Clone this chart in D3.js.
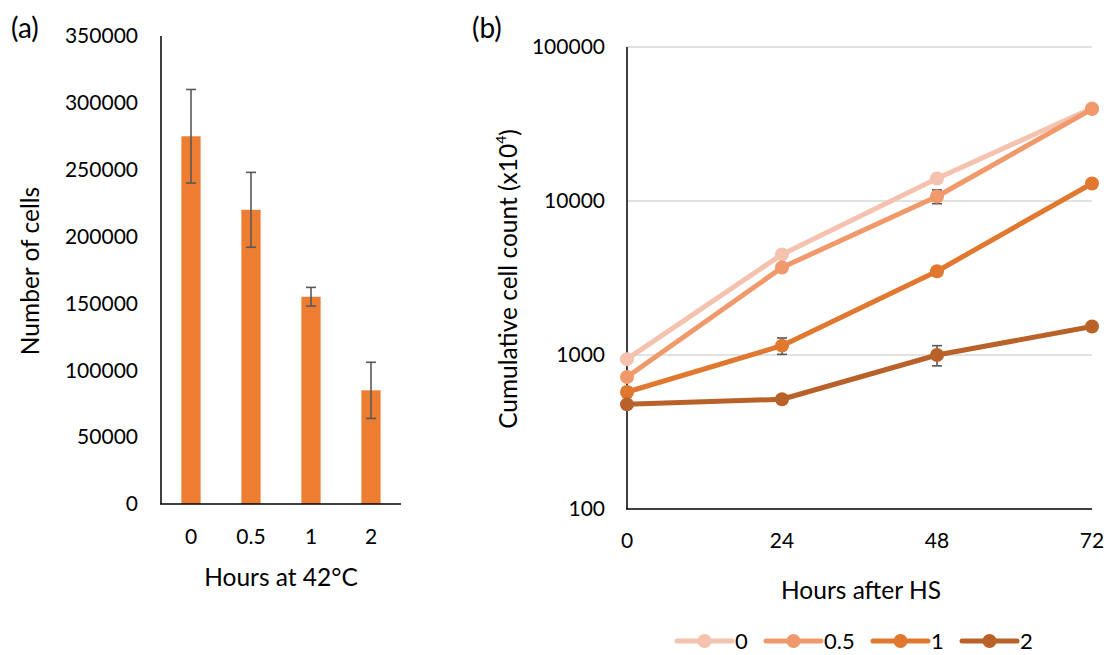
<!DOCTYPE html>
<html>
<head>
<meta charset="utf-8">
<script src="https://cdn.jsdelivr.net/npm/d3@7"></script>
<style>
  html, body { margin: 0; padding: 0; background: #fff; }
  svg { display: block; font-family: Lato, "Open Sans", sans-serif; }
</style>
</head>
<body>
<svg id="chart" width="1115" height="655"></svg>
<script>
// panel (a): cells after heat treatment
const heatHours = ['0', '0.5', '1', '2'];
const cellCounts = [275000, 220000, 155000, 85000];
const cellErrors = [35000, 28000, 7000, 21000];
const barTicks = [0, 50000, 100000, 150000, 200000, 250000, 300000, 350000];

// panel (b): cumulative growth after HS
const timePoints = [0, 24, 48, 72];
const seriesNames = ['0', '0.5', '1', '2'];
const growth0  = [940, 4500, 14000, 40000];
const growth05 = [720, 3700, 10700, 39500];
const growth1  = [575, 1150, 3500, 13000];
const growth2  = [478, 516, 1000, 1530];
const growthErr0  = [0, 0, 0, 0];
const growthErr05 = [0, 0, 1100, 0];
const growthErr1  = [40, 140, 0, 0];
const growthErr2  = [0, 0, 150, 0];
const logTicks = [100, 1000, 10000, 100000];

const COLORS = ['#F4C2AE', '#F0996B', '#E07830', '#B8622A'];
const BAR = '#ED7D31';
const ERR = '#595959';
const TICK_FS = 21, TITLE_FS = 24.5;

const svg = d3.select('#chart');

// ── panel (a) ──
const xa = d3.scaleBand().domain(heatHours).range([161, 401]).paddingInner(0.68).paddingOuter(0.34);
const ya = d3.scaleLinear().domain([0, 350000]).range([504, 36]);

const ga = svg.append('g');
ga.append('g').selectAll('text').data(barTicks).join('text')
  .attr('x', 138).attr('y', d => ya(d)).attr('dy', '0.35em')
  .attr('text-anchor', 'end').attr('font-size', TICK_FS).attr('fill', '#000')
  .text(d => d);

ga.selectAll('rect').data(cellCounts).join('rect')
  .attr('x', (d, i) => xa(heatHours[i]))
  .attr('width', xa.bandwidth())
  .attr('y', d => ya(d))
  .attr('height', d => ya(0) - ya(d))
  .attr('fill', BAR);

const errA = ga.append('g').attr('stroke', ERR).attr('stroke-width', 1.6);
cellCounts.forEach((v, i) => {
  const cx = xa(heatHours[i]) + xa.bandwidth() / 2;
  const e = cellErrors[i];
  errA.append('line').attr('x1', cx).attr('x2', cx).attr('y1', ya(v + e)).attr('y2', ya(v - e));
  errA.append('line').attr('x1', cx - 5).attr('x2', cx + 5).attr('y1', ya(v + e)).attr('y2', ya(v + e));
  errA.append('line').attr('x1', cx - 5).attr('x2', cx + 5).attr('y1', ya(v - e)).attr('y2', ya(v - e));
});

ga.append('line').attr('x1', 161).attr('x2', 161).attr('y1', 36).attr('y2', 504)
  .attr('stroke', '#000').attr('stroke-width', 1.5);
ga.append('line').attr('x1', 160).attr('x2', 401).attr('y1', 504).attr('y2', 504)
  .attr('stroke', '#000').attr('stroke-width', 1.5);

ga.append('g').selectAll('text').data(heatHours).join('text')
  .attr('x', d => xa(d) + xa.bandwidth() / 2).attr('y', 537).attr('dy', '0.35em')
  .attr('text-anchor', 'middle').attr('font-size', TICK_FS)
  .text(d => d);

ga.append('text').attr('x', 281).attr('y', 577).attr('dy', '0.35em')
  .attr('text-anchor', 'middle').attr('font-size', TITLE_FS).text('Hours at 42°C');
ga.append('text').attr('transform', 'translate(30,271) rotate(-90)').attr('dy', '0.35em')
  .attr('text-anchor', 'middle').attr('font-size', TITLE_FS).text('Number of cells');
svg.append('text').attr('x', 11).attr('y', 28).attr('dy', '0.35em')
  .attr('font-size', 28).text('(a)');

// ── panel (b) ──
const xb = d3.scaleLinear().domain([0, 72]).range([627, 1092]);
const yb = d3.scaleLog().domain([100, 100000]).range([509, 47]);
const gb = svg.append('g');

gb.append('g').selectAll('line').data(logTicks.slice(1)).join('line')
  .attr('x1', 627).attr('x2', 1092).attr('y1', d => yb(d)).attr('y2', d => yb(d))
  .attr('stroke', '#d9d9d9').attr('stroke-width', 1.5);

gb.append('g').selectAll('text').data(logTicks).join('text')
  .attr('x', 605).attr('y', d => yb(d)).attr('dy', '0.35em')
  .attr('text-anchor', 'end').attr('font-size', TICK_FS).text(d => d);

gb.append('g').selectAll('text').data(timePoints).join('text')
  .attr('x', d => xb(d)).attr('y', 541).attr('dy', '0.35em')
  .attr('text-anchor', 'middle').attr('font-size', TICK_FS).text(d => d);

gb.append('line').attr('x1', 627).attr('x2', 627).attr('y1', 47).attr('y2', 509)
  .attr('stroke', '#000').attr('stroke-width', 1.5);
gb.append('line').attr('x1', 626).attr('x2', 1092).attr('y1', 509).attr('y2', 509)
  .attr('stroke', '#000').attr('stroke-width', 1.5);

const allSeries = [growth0, growth05, growth1, growth2];
const allErr = [growthErr0, growthErr05, growthErr1, growthErr2];
const line = d3.line().x((d, i) => xb(timePoints[i])).y(d => yb(d));

// error bars drawn first, then lines on top
allSeries.forEach((s, k) => {
  const ge = gb.append('g').attr('stroke', ERR).attr('stroke-width', 1.6);
  s.forEach((v, i) => {
    const e = allErr[k][i];
    if (!e) return;
    const cx = xb(timePoints[i]);
    ge.append('line').attr('x1', cx).attr('x2', cx).attr('y1', yb(v + e)).attr('y2', yb(v - e));
    ge.append('line').attr('x1', cx - 5).attr('x2', cx + 5).attr('y1', yb(v + e)).attr('y2', yb(v + e));
    ge.append('line').attr('x1', cx - 5).attr('x2', cx + 5).attr('y1', yb(v - e)).attr('y2', yb(v - e));
  });
});

allSeries.forEach((s, k) => {
  gb.append('path').attr('d', line(s)).attr('fill', 'none')
    .attr('stroke', COLORS[k]).attr('stroke-width', 5).attr('stroke-linejoin', 'round');
  gb.append('g').selectAll('circle').data(s).join('circle')
    .attr('cx', (d, i) => xb(timePoints[i])).attr('cy', d => yb(d)).attr('r', 7)
    .attr('fill', COLORS[k]);
});

gb.append('text').attr('x', 861).attr('y', 590).attr('dy', '0.35em')
  .attr('text-anchor', 'middle').attr('font-size', TITLE_FS).text('Hours after HS');
const yt = gb.append('text').attr('transform', 'translate(508,279) rotate(-90)').attr('dy', '0.35em')
  .attr('text-anchor', 'middle').attr('font-size', TITLE_FS);
yt.append('tspan').text('Cumulative cell count (x10');
yt.append('tspan').attr('font-size', 14).attr('dy', '-0.75em').text('4');
yt.append('tspan').attr('dy', '0.5em').text(')');
svg.append('text').attr('x', 472).attr('y', 28).attr('dy', '0.35em')
  .attr('font-size', 28).text('(b)');

// legend
const legX = [677, 766, 873, 962];
const leg = svg.append('g');
seriesNames.forEach((n, k) => {
  const x0 = legX[k];
  leg.append('line').attr('x1', x0).attr('x2', x0 + 55).attr('y1', 641).attr('y2', 641)
    .attr('stroke', COLORS[k]).attr('stroke-width', 5).attr('stroke-linecap', 'round');
  leg.append('circle').attr('cx', x0 + 27.5).attr('cy', 641).attr('r', 7).attr('fill', COLORS[k]);
  leg.append('text').attr('x', x0 + 58).attr('y', 641).attr('dy', '0.35em')
    .attr('font-size', 22).text(n);
});
</script>
</body>
</html>
